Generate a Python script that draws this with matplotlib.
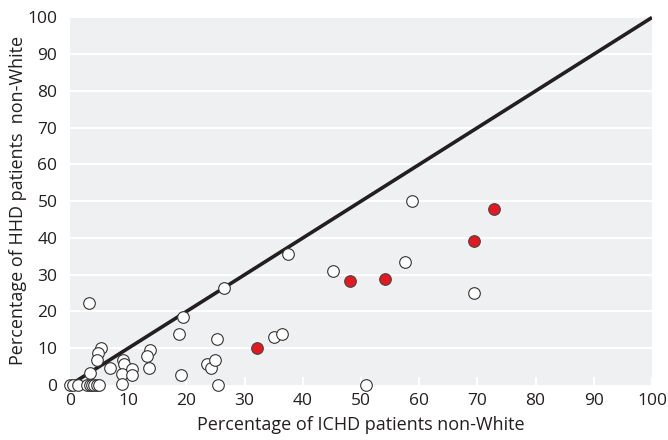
import numpy as np
import matplotlib.pyplot as plt

plt.rcParams['font.family'] = ['Open Sans', 'DejaVu Sans']

# hvite punkter (ICHD %, HHD %)
hvit_x = [0, 0.5, 1.3, 3.0, 3.4, 3.8, 4.2, 4.6, 5.0,
          3.4, 3.3, 5.3, 4.8, 4.6, 6.8,
          9.1, 9.2, 8.9, 9.0, 10.7, 10.6,
          13.7, 13.3, 13.5,
          18.8, 19.5, 19.1,
          23.5, 24.3, 24.9, 25.2, 25.5, 26.5,
          35.0, 36.4, 37.4,
          45.2, 50.9, 57.5, 58.8, 69.5]
hvit_y = [0, 0, 0, 0, 0, 0, 0, 0, 0,
          3.2, 22.3, 10.1, 8.6, 6.8, 4.5,
          6.7, 5.6, 3.1, 0.2, 4.3, 2.8,
          9.5, 7.8, 4.6,
          13.9, 18.5, 2.6,
          5.7, 4.5, 6.9, 12.6, 0.1, 26.3,
          13.1, 13.9, 35.6,
          31.0, 0, 33.5, 50.1, 25.1]

# røde punkter
rod_x = [32.2, 48.1, 54.1, 69.4, 72.9]
rod_y = [10.1, 28.2, 28.8, 39.1, 48.0]

ticks = np.arange(0, 101, 10)

fig = plt.figure(figsize=(6.68, 4.40), dpi=100)
ax = fig.add_axes([70/668, 1 - 385/440, 582/668, 369/440])
ax.set_facecolor('#eff0f2')

for s in ax.spines.values():
    s.set_visible(False)

for t in ticks[1:]:
    ax.axhline(t, color='white', lw=1.5, zorder=1)

ax.plot([0, 100], [0, 100], color='#231f20', lw=2.6, zorder=2, solid_capstyle='butt')

ax.scatter(hvit_x, hvit_y, s=70, facecolor='white', edgecolor='#333333',
           linewidth=0.8, zorder=3, clip_on=False)
ax.scatter(rod_x, rod_y, s=70, facecolor='#e3191f', edgecolor='#444444',
           linewidth=0.8, zorder=4, clip_on=False)

ax.set_xlim(0, 100)
ax.set_ylim(0, 100.4)
ax.set_xticks(ticks)
ax.set_yticks(ticks)
ax.tick_params(axis='x', direction='in', length=6, width=1.5, color='white',
               labelsize=12.5, labelcolor='#231f20', pad=6)
ax.tick_params(axis='y', length=0, labelsize=12.5, labelcolor='#231f20', pad=9)

ax.set_xlabel('Percentage of ICHD patients non-White', fontsize=13, color='#231f20', labelpad=5)
ax.set_ylabel('Percentage of HHD patients  non-White', fontsize=13, color='#231f20', labelpad=0)

plt.savefig('out.png', dpi=100)
